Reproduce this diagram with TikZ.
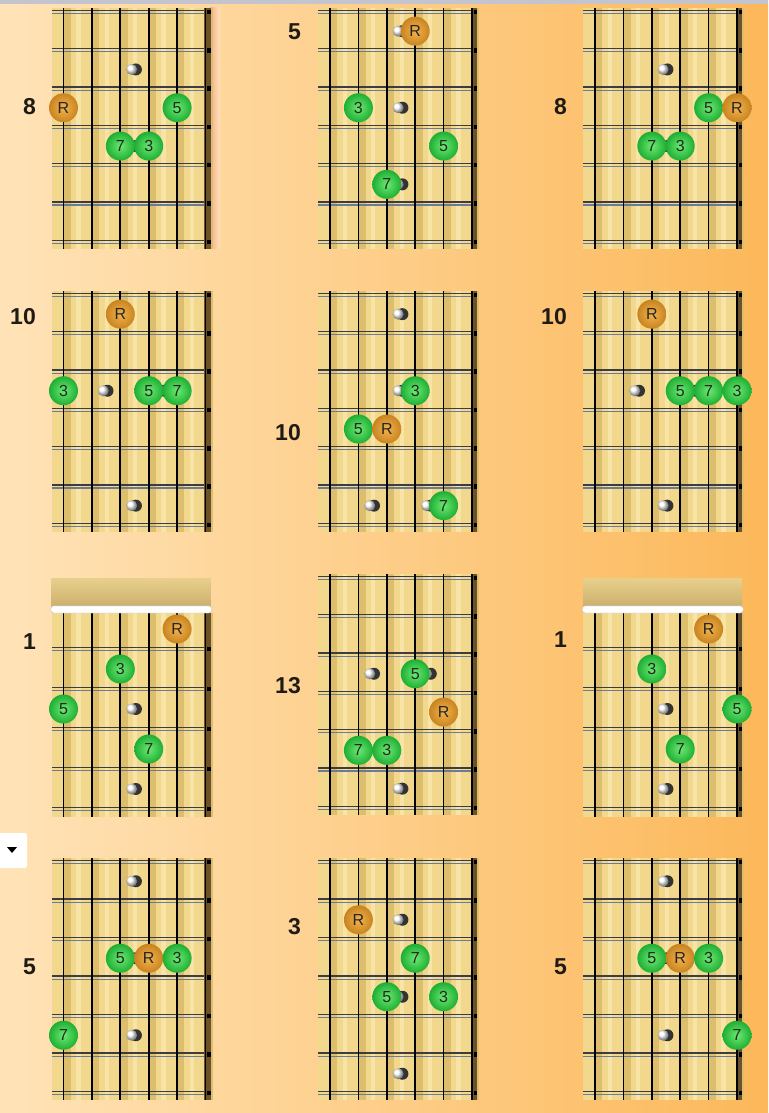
\documentclass[tikz,border=0pt]{standalone}
\usepackage{fontspec}
\setmainfont{Liberation Sans}
\usepackage{tikz}
\usetikzlibrary{positioning}
\definecolor{bgleft}{HTML}{FFE3B8}
\definecolor{bgmid}{HTML}{FDD296}
\definecolor{bgright}{HTML}{FCB85A}
\definecolor{topbar}{HTML}{C4C4CE}
\definecolor{wood}{HTML}{F2D88C}
\definecolor{woodband}{HTML}{DDBE6C}
\definecolor{woodlight}{HTML}{F8E4A6}
\definecolor{headtop}{HTML}{E8CF8C}
\definecolor{headbot}{HTML}{CBB06C}
\definecolor{fretdark}{HTML}{3C3C42}
\definecolor{fretblue}{HTML}{6A7A98}
\definecolor{edgebrown}{HTML}{6B5228}
\definecolor{greenin}{HTML}{6BEA70}
\definecolor{greenout}{HTML}{1FAE35}
\definecolor{orangein}{HTML}{F2B24C}
\definecolor{orangeout}{HTML}{C98420}
\definecolor{numtext}{HTML}{1E1A14}
\definecolor{edgepink}{HTML}{F7AE8E}

\tikzset{
  gdot/.style={circle, minimum size=29pt, inner sep=0pt, inner color=greenin, outer color=greenout, font=\fontsize{16}{16}\selectfont, text=black!85},
  rdot/.style={gdot, inner color=orangein, outer color=orangeout},
  fretnum/.style={anchor=east, inner sep=0pt, font=\fontsize{23}{23}\selectfont\bfseries, text=numtext}
}

\newcommand{\fretboard}[4]{%
  \fill[wood] (0.58,#1) rectangle (6.18,#4);
  \foreach \s in {1,...,5} \fill[woodlight] (\s+0.45,#1) rectangle (\s+0.6,#4);
  \foreach \s in {1,...,6} \fill[woodband] (\s,#1) rectangle (\s+0.26,#4);
  \foreach \f in {#2,...,#3} {
    \draw[fretdark, line width=1.2pt] (0.58,\f-0.04) -- (6.1,\f-0.04);
    \draw[fretblue, line width=1.1pt] (0.58,\f+0.04) -- (6.1,\f+0.04);
  }
  \fill[edgebrown] (5.96,#1) rectangle (6.18,#4);
  \foreach \s in {1,...,6} \draw[black, line width=1.7pt] (\s,#1) -- (\s,#4);
  \foreach \f in {#2,...,#3} \fill[black] (6.07,\f-0.06) rectangle (6.18,\f+0.06);
}
\newcommand{\nutboard}{%
  \shade[top color=headtop, bottom color=headbot] (0.58,-0.275) rectangle (6.18,0.45);
  \fretboard{0.6}{1.5}{5.5}{5.7}
  \fill[white, draw=black!25, rounded corners=3pt] (0.55,0.42) rectangle (6.22,0.6);
}
\newcommand{\inlay}[2]{%
  \fill[black!80] (#1+0.15,#2) circle (6pt);
  \shade[ball color=white] (#1,#2) circle (5.5pt);
}

\begin{document}
\begin{tikzpicture}[x=1pt, y=-1pt]
    \useasboundingbox (0,0) rectangle (768,1113);
    \shade[left color=bgleft, middle color=bgmid, right color=bgright] (0,0) rectangle (768,1113);
    \fill[topbar] (0,0) rectangle (768,4);
    \shade[left color=edgepink, right color=bgleft] (210,8) rectangle (220,248);
    \fill[white, rounded corners=2pt] (-4,833) rectangle (27,868);
    \fill[black] (7,847) -- (17,847) -- (12,853) -- cycle;

    \begin{scope}[xshift=35.1pt, yshift=7.15pt, x=28.4pt, y=-38.3pt]
        \fretboard{0.4}{0.5}{6.5}{6.68}
        \inlay{3.4}{2} \inlay{3.4}{4}
        \node[rdot] (aR) at (1,3) {R};
        \node[gdot] (a5) at (5,3) {5};
        \node[gdot] (a7) at (3,4) {7};
        \node[gdot] (a3) at (4,4) {3};
    \end{scope}
    \begin{scope}[xshift=301.6pt, yshift=7.15pt, x=28.4pt, y=-38.3pt]
        \fretboard{0.4}{0.5}{6.5}{6.68}
        \inlay{3.4}{1} \inlay{3.4}{3} \inlay{3.4}{5}
        \node[rdot] (bR) at (4,1) {R};
        \node[gdot] (b3) at (2,3) {3};
        \node[gdot] (b5) at (5,4) {5};
        \node[gdot] (b7) at (3,5) {7};
    \end{scope}
    \begin{scope}[xshift=566.6pt, yshift=7.15pt, x=28.4pt, y=-38.3pt]
        \fretboard{0.4}{0.5}{6.5}{6.68}
        \inlay{3.4}{2} \inlay{3.4}{4}
        \node[gdot] (c5) at (5,3) {5};
        \node[rdot] (cR) at (6,3) {R};
        \node[gdot] (c7) at (3,4) {7};
        \node[gdot] (c3) at (4,4) {3};
    \end{scope}

    \begin{scope}[xshift=35.1pt, yshift=-275.85pt, x=28.4pt, y=-38.3pt]
        \fretboard{0.4}{0.5}{6.5}{6.68}
        \inlay{2.4}{3} \inlay{4.4}{3} \inlay{3.4}{6}
        \node[rdot] (dR) at (3,1) {R};
        \node[gdot] (d3) at (1,3) {3};
        \node[gdot] (d5) at (4,3) {5};
        \node[gdot] (d7) at (5,3) {7};
    \end{scope}
    \begin{scope}[xshift=301.6pt, yshift=-275.85pt, x=28.4pt, y=-38.3pt]
        \fretboard{0.4}{0.5}{6.5}{6.68}
        \inlay{3.4}{1} \inlay{3.4}{3} \inlay{2.4}{6} \inlay{4.4}{6}
        \node[gdot] (e3) at (4,3) {3};
        \node[gdot] (e5) at (2,4) {5};
        \node[rdot] (eR) at (3,4) {R};
        \node[gdot] (e7) at (5,6) {7};
    \end{scope}
    \begin{scope}[xshift=566.6pt, yshift=-275.85pt, x=28.4pt, y=-38.3pt]
        \fretboard{0.4}{0.5}{6.5}{6.68}
        \inlay{2.4}{3} \inlay{4.4}{3} \inlay{3.4}{6}
        \node[rdot] (fR) at (3,1) {R};
        \node[gdot] (f5) at (4,3) {5};
        \node[gdot] (f7) at (5,3) {7};
        \node[gdot] (f3) at (6,3) {3};
    \end{scope}

    \begin{scope}[xshift=35.1pt, yshift=-589pt, x=28.4pt, y=-40pt]
        \nutboard
        \inlay{3.4}{3} \inlay{3.4}{5}
        \node[rdot] (gR) at (5,1) {R};
        \node[gdot] (g3) at (3,2) {3};
        \node[gdot] (g5) at (1,3) {5};
        \node[gdot] (g7) at (4,4) {7};
    \end{scope}
    \begin{scope}[xshift=301.6pt, yshift=-558.85pt, x=28.4pt, y=-38.3pt]
        \fretboard{0.4}{0.5}{6.5}{6.68}
        \inlay{2.4}{3} \inlay{4.4}{3} \inlay{3.4}{6}
        \node[gdot] (h5) at (4,3) {5};
        \node[rdot] (hR) at (5,4) {R};
        \node[gdot] (h7) at (2,5) {7};
        \node[gdot] (h3) at (3,5) {3};
    \end{scope}
    \begin{scope}[xshift=566.6pt, yshift=-589pt, x=28.4pt, y=-40pt]
        \nutboard
        \inlay{3.4}{3} \inlay{3.4}{5}
        \node[rdot] (iR) at (5,1) {R};
        \node[gdot] (i3) at (3,2) {3};
        \node[gdot] (i5) at (6,3) {5};
        \node[gdot] (i7) at (4,4) {7};
    \end{scope}

    \begin{scope}[xshift=35.1pt, yshift=-842.75pt, x=28.4pt, y=-38.5pt]
        \fretboard{0.4}{0.5}{6.5}{6.68}
        \inlay{3.4}{1} \inlay{3.4}{3} \inlay{3.4}{5}
        \node[gdot] (j5) at (3,3) {5};
        \node[rdot] (jR) at (4,3) {R};
        \node[gdot] (j3) at (5,3) {3};
        \node[gdot] (j7) at (1,5) {7};
    \end{scope}
    \begin{scope}[xshift=301.6pt, yshift=-842.75pt, x=28.4pt, y=-38.5pt]
        \fretboard{0.4}{0.5}{6.5}{6.68}
        \inlay{3.4}{2} \inlay{3.4}{4} \inlay{3.4}{6}
        \node[rdot] (kR) at (2,2) {R};
        \node[gdot] (k7) at (4,3) {7};
        \node[gdot] (k5) at (3,4) {5};
        \node[gdot] (k3) at (5,4) {3};
    \end{scope}
    \begin{scope}[xshift=566.6pt, yshift=-842.75pt, x=28.4pt, y=-38.5pt]
        \fretboard{0.4}{0.5}{6.5}{6.68}
        \inlay{3.4}{1} \inlay{3.4}{3} \inlay{3.4}{5}
        \node[gdot] (l5) at (3,3) {5};
        \node[rdot] (lR) at (4,3) {R};
        \node[gdot] (l3) at (5,3) {3};
        \node[gdot] (l7) at (6,5) {7};
    \end{scope}

    \node[fretnum] (numa) at (36,107) {8};
    \node[fretnum] (numb) at (301,32) {5};
    \node[fretnum] (numc) at (567,107) {8};
    \node[fretnum] (numd) at (36,317) {10};
    \node[fretnum] (nume) at (301,433) {10};
    \node[fretnum] (numf) at (567,317) {10};
    \node[fretnum] (numg) at (36,642) {1};
    \node[fretnum] (numh) at (301,686) {13};
    \node[fretnum] (numi) at (567,640) {1};
    \node[fretnum] (numj) at (36,967) {5};
    \node[fretnum] (numk) at (301,927) {3};
    \node[fretnum] (numl) at (567,967) {5};
\end{tikzpicture}
\end{document}
